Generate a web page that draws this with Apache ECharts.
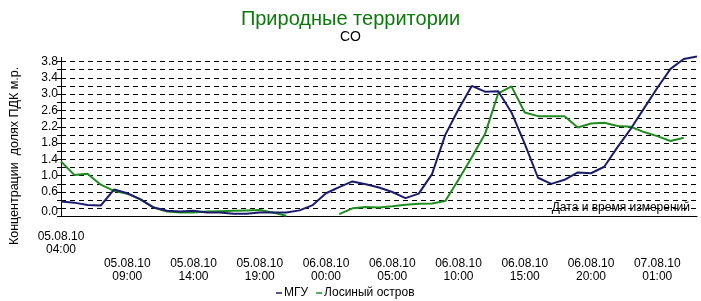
<!DOCTYPE html>
<html>
<head>
<meta charset="utf-8">
<script src="https://cdn.jsdelivr.net/npm/echarts@6/dist/echarts.min.js"></script>
<style>html,body{margin:0;padding:0;background:#fff}#c{width:701px;height:301px}</style>
</head>
<body>
<div id="c"></div>
<script>
var categories = [
 '05.08.10 04:00','05.08.10 05:00','05.08.10 06:00','05.08.10 07:00','05.08.10 08:00','05.08.10 09:00',
 '05.08.10 10:00','05.08.10 11:00','05.08.10 12:00','05.08.10 13:00','05.08.10 14:00','05.08.10 15:00',
 '05.08.10 16:00','05.08.10 17:00','05.08.10 18:00','05.08.10 19:00','05.08.10 20:00','05.08.10 21:00',
 '05.08.10 22:00','05.08.10 23:00','06.08.10 00:00','06.08.10 01:00','06.08.10 02:00','06.08.10 03:00',
 '06.08.10 04:00','06.08.10 05:00','06.08.10 06:00','06.08.10 07:00','06.08.10 08:00','06.08.10 09:00',
 '06.08.10 10:00','06.08.10 11:00','06.08.10 12:00','06.08.10 13:00','06.08.10 14:00','06.08.10 15:00',
 '06.08.10 16:00','06.08.10 17:00','06.08.10 18:00','06.08.10 19:00','06.08.10 20:00','06.08.10 21:00',
 '06.08.10 22:00','06.08.10 23:00','07.08.10 00:00','07.08.10 01:00','07.08.10 02:00','07.08.10 03:00',
 '07.08.10 04:00'
];
var mguValues = [
 0.37,0.34,0.28,0.27,0.66,0.57,0.42,0.22,0.14,0.12,0.14,0.10,
 0.10,0.07,0.07,0.10,0.10,0.10,0.15,0.28,0.57,0.72,0.86,0.79,
 0.71,0.60,0.45,0.56,1.04,2.00,2.63,3.20,3.06,3.07,2.55,1.78,
 0.95,0.80,0.90,1.08,1.06,1.22,1.70,2.15,2.65,3.15,3.62,3.86,
 3.92
];
var losinyValues = [
 1.35,1.02,1.05,0.78,0.63,0.56,0.42,0.22,0.12,0.10,0.10,0.12,
 0.13,0.14,0.15,0.16,0.10,0.02,null,null,null,0.06,0.20,0.23,
 0.22,0.25,0.29,0.31,0.32,0.38,0.90,1.45,2.02,3.02,3.19,2.55,
 2.46,2.46,2.46,2.18,2.28,2.30,2.22,2.20,2.07,1.97,1.85,1.93,
 null
];
var yTickLabels = ['0.0','0.6','1.0','1.4','1.8','2.2','2.6','3.0','3.4','3.8'];
var seriesNames = ['МГУ','Лосиный остров'];

var FONT = 'Liberation Sans, Arial, sans-serif';
var chart = echarts.init(document.getElementById('c'), null, {renderer:'canvas'});
chart.setOption({
  animation: false,
  backgroundColor: '#fff',
  title: [
    {text: 'Природные территории', left: 'center', top: 4,
     textStyle: {color: '#0b7a0b', fontSize: 20, fontWeight: 'normal', fontFamily: FONT}},
    {text: 'CO', left: 'center', top: 25,
     textStyle: {color: '#000', fontSize: 14, fontWeight: 'normal', fontFamily: FONT}}
  ],
  legend: {
    left: 271, top: 282, icon: 'rect', itemWidth: 6, itemHeight: 1.5, itemGap: 8,
    data: seriesNames,
    textStyle: {color: '#000', fontSize: 12, fontFamily: FONT, padding: [0,0,0,-3]}
  },
  grid: {left: 48, right: 4, top: 57.4, bottom: 84.5, containLabel: false},
  xAxis: {
    type: 'category', boundaryGap: false, data: categories,
    axisLine: {lineStyle: {color: '#000', width: 1}},
    axisTick: {show: false},
    splitLine: {show: false},
    axisLabel: {
      interval: 4, margin: 13, color: '#000', fontSize: 12, fontFamily: FONT,
      lineHeight: 13.5, align: 'center',
      formatter: function (v, i) {
        var p = v.split(' ');
        return (i === 0 ? '' : '\n\n') + p[0] + '\n' + p[1];
      }
    }
  },
  yAxis: {
    type: 'value', min: 0, max: 3.9, interval: 0.2,
    name: 'Концентрации  долях ПДК м.р.', nameLocation: 'middle', nameGap: 40, nameRotate: 90,
    nameTextStyle: {color: '#000', fontSize: 12.5, fontFamily: FONT, padding: [0,38,0,0]},
    axisLine: {show: true, lineStyle: {color: '#000', width: 1}},
    axisTick: {show: true, length: 4, lineStyle: {color: '#000'}},
    splitLine: {show: true, showMaxLine: false, lineStyle: {color: '#000', type: [5,4], width: 1}},
    axisLabel: {
      color: '#000', fontSize: 12, fontFamily: FONT, margin: 3, showMaxLabel: false,
      formatter: function (v) {
        var s = v.toFixed(1);
        if (yTickLabels.indexOf(s) < 0) return '';
        if (s === '0.0') return '{z|0.0}';
        return s;
      },
      rich: {z: {fontSize: 12, fontFamily: FONT, color: '#000', padding: [0,0,10,0]}}
    }
  },
  graphic: [{
    type: 'text', right: 11, top: 202,
    style: {text: 'Дата и время измерений', fill: '#000', font: '12px ' + FONT}
  }],
  series: [
    {name: seriesNames[0], type: 'line', data: mguValues, symbol: 'none', clip: false,
     lineStyle: {color: '#1c1c6e', width: 2}, itemStyle: {color: '#1c1c6e'}, z: 3},
    {name: seriesNames[1], type: 'line', data: losinyValues, symbol: 'none', clip: false,
     lineStyle: {color: '#1f8c1f', width: 2}, itemStyle: {color: '#1f8c1f'}, z: 2}
  ]
});
</script>
</body>
</html>
